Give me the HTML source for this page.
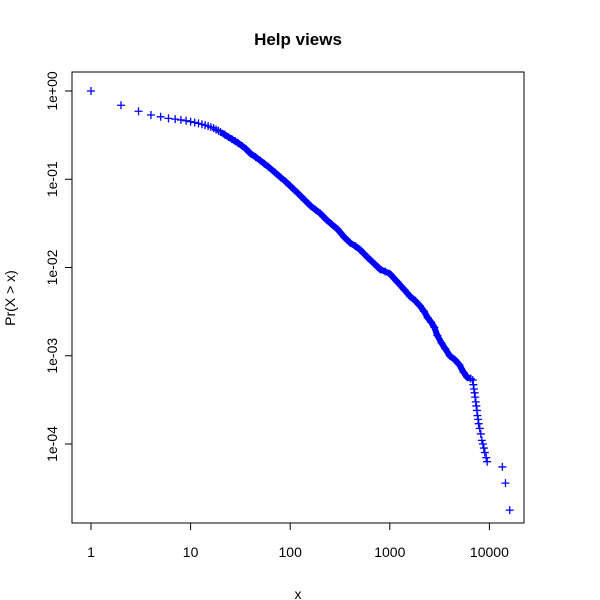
<!DOCTYPE html>
<html><head><meta charset="utf-8">
<style>
html,body{margin:0;padding:0;background:#fff;}
svg{display:block;font-family:"Liberation Sans",Arial,sans-serif;}
</style></head>
<body>
<svg id="chart" width="600" height="600" viewBox="0 0 600 600">
<rect width="600" height="600" fill="#fff"/>
<text x="298" y="45" text-anchor="middle" font-size="17" font-weight="bold">Help views</text>
<rect x="72" y="72" width="452" height="451" fill="none" stroke="#000" stroke-width="1"/>
<text x="298" y="599" text-anchor="middle" font-size="14">x</text>
<text transform="translate(15,298) rotate(-90)" text-anchor="middle" font-size="14">Pr(X &gt; x)</text>
<g id="axes"></g>
<g id="fit"></g>
<g id="pts"></g>
</svg>
<script>
const xTicks = [1, 10, 100, 1000, 10000];
const xTickLabels = ["1", "10", "100", "1000", "10000"];
const yTicks = [1, 0.1, 0.01, 0.001, 0.0001];
const yTickLabels = ["1e+00", "1e-01", "1e-02", "1e-03", "1e-04"];
const xs = [1,2,3,4,5,6,7,8,9,10,11,12,13,14,15,16,17,18,19,20,22,24,26,28,30,33,36,40,45,50,55,60,70,80,90,100,120,140,160,180,200,230,260,300,350,400,450,500,600,700,800,900,1000,1200,1400,1600,1800,2000,2200,2400,2600,2800,3000,3300,3600,4000,4500,5000,5500,6000,6500,6800,6900,7000,7100,7200,7300,7400,7500,7600,7700,7800,8000,8200,8400,8600,8800,9000,9300,9500,13500,14500,16000];
const ps = [1,0.69,0.59,0.535,0.51,0.49,0.48,0.47,0.46,0.45,0.44,0.43,0.42,0.41,0.40,0.39,0.38,0.365,0.355,0.343,0.32,0.30,0.285,0.27,0.257,0.238,0.22,0.195,0.178,0.163,0.15,0.139,0.12,0.105,0.094,0.084,0.069,0.058,0.05,0.045,0.041,0.035,0.031,0.027,0.022,0.019,0.0175,0.016,0.013,0.011,0.0095,0.009,0.0085,0.0068,0.0056,0.0047,0.0042,0.0037,0.0032,0.0027,0.0024,0.0021,0.0017,0.0014,0.0012,0.001,0.0009,0.00079,0.00065,0.00057,0.00055,0.00053,0.00047,0.00042,0.00038,0.00034,0.0003,0.00027,0.00024,0.00021,0.00019,0.00017,0.00015,0.00013,0.00011,0.0001,0.00009,0.00008,0.00007,0.000063,0.000055,0.000036,0.0000178];
const fitX = [20, 50, 100, 300, 1000, 2000];
const fitP = [0.343, 0.163, 0.084, 0.027, 0.0085, 0.0037];

const NS = "http://www.w3.org/2000/svg";
function sx(v){ return 91 + 99.6*Math.log10(v); }
function sy(v){ return 91 - 88.25*Math.log10(v); }
function mk(tag, attrs, parent){ const e=document.createElementNS(NS,tag); for(const k in attrs) e.setAttribute(k,attrs[k]); parent.appendChild(e); return e; }

const axes = document.getElementById("axes");
xTicks.forEach((t,i)=>{
  const x = sx(t);
  const l = mk("line",{x1:x,x2:x,y1:523,y2:530,stroke:"#000"},axes);
  
  
  const tx = mk("text",{x:x,y:557,"text-anchor":"middle","font-size":"14"},axes);
  tx.textContent = xTickLabels[i];
  
  
});
mk("line",{x1:sx(1),x2:sx(10000),y1:523,y2:523,stroke:"#000"},axes);
yTicks.forEach((t,i)=>{
  const y = sy(t);
  const l = mk("line",{x1:65,x2:72,y1:y,y2:y,stroke:"#000"},axes);
  
  
  const tx = mk("text",{transform:"translate(57,"+y+") rotate(-90)","text-anchor":"middle","font-size":"14"},axes);
  tx.textContent = yTickLabels[i];
  
  
});

const fit = document.getElementById("fit");
const fl = mk("polyline",{points:fitX.map((v,i)=>sx(v)+","+sy(fitP[i])).join(" "),fill:"none",stroke:"#ff0000","stroke-width":"1"},fit);



const pts = document.getElementById("pts");
const band = mk("polyline",{points:xs.filter(v=>v>=20&&v<=6500).map(v=>sx(v)+","+sy(ps[xs.indexOf(v)])).join(" "),fill:"none",stroke:"#0000ff","stroke-width":"6","stroke-linejoin":"round"},pts);


xs.forEach((v,i)=>{
  const x=sx(v), y=sy(ps[i]);
  const p = mk("path",{d:"M"+(x-4)+" "+y+"H"+(x+4)+"M"+x+" "+(y-4)+"V"+(y+4),stroke:"#0000ff","stroke-width":"1.3",fill:"none"},pts);
  
  
});
</script>
</body></html>
